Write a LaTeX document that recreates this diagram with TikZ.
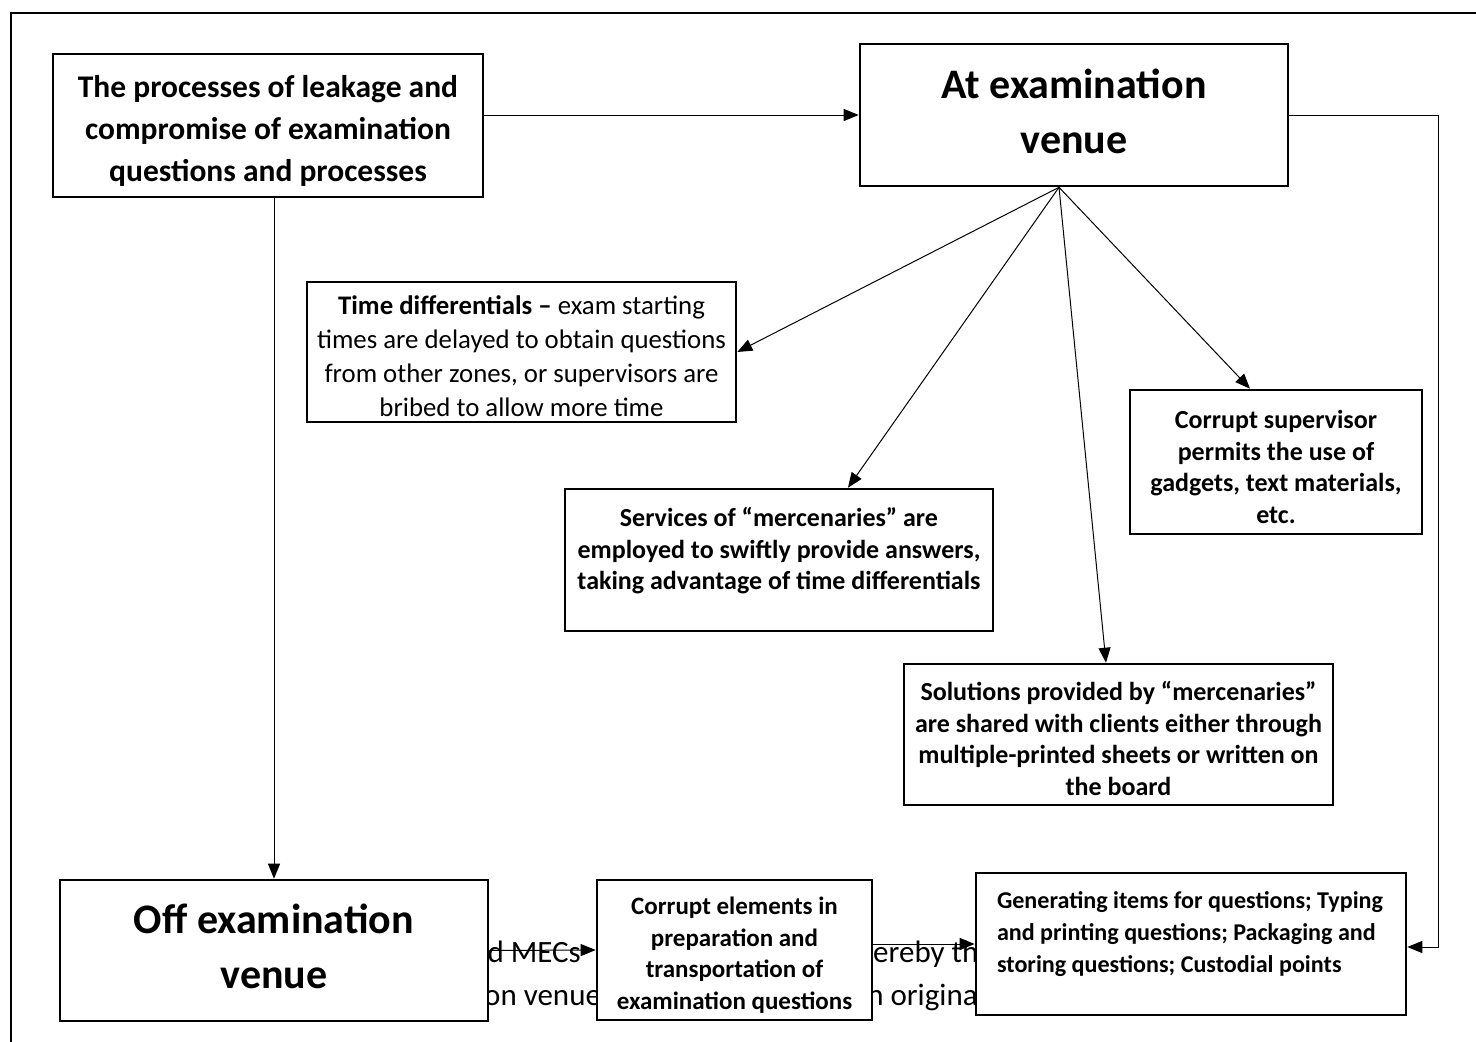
\documentclass[tikz,border=0pt]{standalone}
\usepackage{fontspec}
\setmainfont{Carlito}
\usetikzlibrary{arrows.meta,positioning}
\newcommand{\gaps}{\spaceskip=.226em plus .1em\relax}
\newcommand{\bigtxt}{\fontsize{42}{55}\selectfont\bfseries\gaps}
\newcommand{\midtxt}{\fontsize{31.5}{42}\selectfont\bfseries\gaps}
\newcommand{\regtxt}{\fontsize{26.8}{34}\selectfont\gaps}
\newcommand{\smltxt}{\fontsize{26}{31.5}\selectfont\bfseries\gaps}
\newcommand{\tintxt}{\fontsize{25}{31.5}\selectfont\bfseries\gaps}
\newcommand{\gentxt}{\fontsize{24.1}{32}\selectfont\bfseries\gaps}
\newcommand{\hidtxt}{\fontsize{31}{43}\selectfont\gaps}

\begin{document}
\begin{tikzpicture}[x=1pt,y=-1pt,
    box/.style={draw, line width=2.6pt, fill=white, inner sep=0pt, align=flush center},
    link/.style={-{Triangle[length=15pt,width=12pt]}, line width=1pt},
    behind/.style={inner sep=0pt, font=\hidtxt}]
    \useasboundingbox (0,0) rectangle (1476,1042);
    \draw[line width=2.4pt] (11,1042) -- (11,13) -- (1476,13);
    % page text that shows between the lower boxes
    \node[behind, anchor=base east] (pageA) at (581,962) {ed MECs};
    \node[behind, anchor=base west] (pageB) at (484,1005) {on venue and};
    \node[behind, anchor=base west] (pageC) at (873,962) {ereby the};
    \node[behind, anchor=base west] (pageD) at (860,1005) {in original};
    % boxes
    \node[box, font=\midtxt, minimum width=430pt, minimum height=143pt, text width=420pt,
        text depth=78pt] (proc) at (268,125.5)
        {The processes of leakage and\\ compromise of examination\\ questions and processes};
    \node[box, font=\bigtxt, minimum width=428pt, minimum height=142pt, text width=420pt,
        text depth=63pt] (at) at (1074,115)
        {At examination\\ venue};
    \node[box, font=\regtxt, minimum width=429pt, minimum height=140pt, text width=420pt,
        text depth=94pt] (time) at (521.5,352)
        {\textbf{Time differentials –} exam starting\\ times are delayed to obtain questions\\ from other zones, or supervisors are\\ bribed to allow more time};
    \node[box, font=\smltxt, minimum width=428pt, minimum height=142pt, text width=420pt,
        text depth=86pt] (merc) at (779,560)
        {Services of “mercenaries” are\\ employed to swiftly provide answers,\\ taking advantage of time differentials};
    \node[box, font=\smltxt, minimum width=292pt, minimum height=144pt, text width=284pt,
        text depth=84.5pt] (super) at (1276,462)
        {Corrupt supervisor\\ permits the use of\\ gadgets, text materials,\\ etc.};
    \node[box, font=\smltxt, minimum width=429pt, minimum height=141pt, text width=420pt,
        text depth=86.5pt] (sol) at (1118.5,734.5)
        {Solutions provided by “mercenaries”\\ are shared with clients either through\\ multiple-printed sheets or written on\\ the board};
    \node[box, font=\bigtxt, minimum width=428pt, minimum height=141pt, text width=420pt,
        text depth=63pt] (off) at (274,950.5)
        {Off examination\\ venue};
    \node[box, font=\tintxt, minimum width=275pt, minimum height=140pt, text width=270pt,
        text depth=87.7pt] (prep) at (734.5,950)
        {Corrupt elements in\\ preparation and\\ transportation of\\ examination questions};
    \node[box, font=\gentxt, minimum width=430pt, minimum height=142pt, text width=388pt, align=flush left,
        text depth=88pt] (gen) at (1191,944)
        {Generating items for questions; Typing\\ and printing questions; Packaging and\\ storing questions; Custodial points};
    %\node[box] (prep) [right=of off] {};
    \coordinate (hub) at ([xshift=-15pt]at.south);
    \coordinate (turn) at (1438,947);
    % connectors
    \draw[link] (proc.east |- at.west) -- (at.west);
    \draw[link] (proc.south -| off.north) -- (off.north);
    \draw[link] (hub) -- (time.east);
    \draw[link] (hub) -- ([xshift=69pt]merc.north);
    \draw[link] (hub) -- ([xshift=-12.5pt]sol.north);
    \draw[link] (hub) -- ([xshift=-26pt]super.north);
    \draw[link] (at.east) -| (turn) -- (gen.east |- turn);
    \draw[link] (off.east) -- (prep.west);
    \draw[link] (prep.east |- gen.west) -- (gen.west);
\end{tikzpicture}
\end{document}
